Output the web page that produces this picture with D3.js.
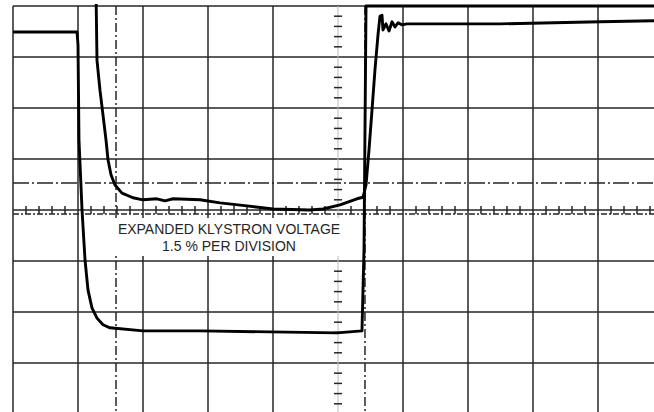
<!DOCTYPE html>
<html>
  <head>
    <script src="https://d3js.org/d3.v7.min.js"></script>
    <style>
      body { margin: 0; background: #fff; }
      .grid { stroke: #262626; stroke-width: 1.5; }
      .trace { fill: none; stroke: #000; stroke-width: 2.9; stroke-linejoin: round; }
      .label { font-family: "Liberation Sans", Arial, sans-serif; font-size: 14px; fill: #262626; }
    </style>
  </head>
  <body>
    <div id="scope"></div>
    <script>
      // graticule: 10 x 8 divisions (right edge cropped)
      const xDivisions = [0, 1, 2, 3, 4, 6, 7, 8, 9, 10];
      const yDivisions = d3.range(-4, 5);

      // trace 1 (beam pulse), in divisions
      const pulseT = [0, 0.985, 1.0, 1.015, 1.062, 1.108, 1.154, 1.215, 1.292, 1.385, 1.492, 2.0, 2.877, 3.954, 4.985, 5.369, 5.4, 5.431, 9.862];
      const pulseV = [3.49, 3.49, 3.24, 1.37, 0, -0.98, -1.57, -1.92, -2.12, -2.25, -2.31, -2.37, -2.37, -2.39, -2.41, -2.37, -0.78, 4.0, 4.0];

      // trace 2 (expanded klystron voltage), in divisions
      const klyT = [1.277, 1.292, 1.338, 1.385, 1.431, 1.462, 1.508, 1.569, 1.677, 1.846, 2.0, 2.215, 2.338, 2.462, 2.877, 3.185, 3.6, 4.0, 4.569, 4.769, 5.031, 5.292, 5.385, 5.431, 5.477, 5.523, 5.569, 5.615, 5.646, 5.677, 5.692, 5.738, 5.785, 5.831, 5.877, 5.923, 5.985, 6.062, 6.262, 7.492, 9.031, 9.862];
      const klyV = [4.31, 2.94, 2.35, 1.86, 1.37, 0.98, 0.69, 0.49, 0.33, 0.24, 0.2, 0.22, 0.18, 0.22, 0.2, 0.14, 0.08, 0.02, 0, 0.02, 0.1, 0.22, 0.25, 0.49, 1.18, 1.96, 2.75, 3.43, 3.8, 3.82, 3.53, 3.65, 3.51, 3.69, 3.59, 3.67, 3.63, 3.65, 3.65, 3.65, 3.69, 3.71];

      const labelLines = ["EXPANDED KLYSTRON VOLTAGE", "1.5 % PER DIVISION"];

      const W = 654, H = 412;
      const x = d3.scaleLinear().domain([0, 10]).range([13, 663]);
      const y = d3.scaleLinear().domain([4, -4]).range([6, 414]);

      const svg = d3.select("#scope").append("svg")
        .attr("width", W).attr("height", H);

      const g = svg.append("g");

      // main grid
      g.selectAll(".vline").data(xDivisions).join("line")
        .attr("class", "grid")
        .attr("x1", d => x(d)).attr("x2", d => x(d))
        .attr("y1", y(4)).attr("y2", H);
      g.selectAll(".hline").data(yDivisions).join("line")
        .attr("class", "grid")
        .attr("x1", x(0)).attr("x2", W)
        .attr("y1", d => y(d)).attr("y2", d => y(d));
      // centre vertical axis is faint, only its ticks are strong
      g.append("line")
        .attr("stroke", "#bbb").attr("stroke-width", 1)
        .attr("x1", x(5)).attr("x2", x(5))
        .attr("y1", y(4)).attr("y2", H);

      // rise-time marker lines
      [1.585, 5.415].forEach(t => {
        g.append("line").attr("class", "grid")
          .attr("stroke-dasharray", "9,3,2,3")
          .attr("x1", x(t)).attr("x2", x(t))
          .attr("y1", y(4)).attr("y2", H);
      });
      g.append("line").attr("class", "grid")
        .attr("stroke-dasharray", "16,3,2,3")
        .attr("x1", x(0)).attr("x2", W)
        .attr("y1", y(0.53)).attr("y2", y(0.53));
      g.append("line").attr("class", "grid")
        .attr("stroke-dasharray", "6,2,2,2")
        .attr("x1", x(0)).attr("x2", W)
        .attr("y1", y(-0.08)).attr("y2", y(-0.08));

      // minor ticks on the centre axes
      const hTicks = d3.range(0, 50).map(i => i / 5).filter(d => d % 1 !== 0);
      g.selectAll(".htick").data(hTicks).join("line")
        .attr("class", "grid")
        .attr("x1", d => x(d)).attr("x2", d => x(d))
        .attr("y1", y(0) - 4).attr("y2", y(0) + 4);
      const vTicks = d3.range(-20, 20).map(i => i / 5).filter(d => Math.abs(d % 1) > 0.01);
      g.selectAll(".vtick").data(vTicks).join("line")
        .attr("class", "grid").attr("stroke-width", 2)
        .attr("x1", x(5) - 4).attr("x2", x(5) + 4)
        .attr("y1", d => y(d)).attr("y2", d => y(d));

      // annotation sits on a white patch that hides the grid
      g.append("rect")
        .attr("x", 112).attr("y", 218)
        .attr("width", 234).attr("height", 38)
        .attr("fill", "#fff");

      // traces
      const line = d3.line().x(d => x(d[0])).y(d => y(d[1]));
      svg.append("clipPath").attr("id", "clip")
        .append("rect").attr("x", 0).attr("y", 4).attr("width", W).attr("height", H);

      svg.append("path").attr("class", "trace").attr("clip-path", "url(#clip)")
        .attr("d", line(d3.zip(pulseT, pulseV)));
      svg.append("path").attr("class", "trace").attr("clip-path", "url(#clip)")
        .attr("d", line(d3.zip(klyT, klyV)));

      svg.selectAll(".label").data(labelLines).join("text")
        .attr("class", "label")
        .attr("text-anchor", "middle")
        .attr("x", 229)
        .attr("y", (d, i) => 234 + i * 17)
        .text(d => d);
    </script>
  </body>
</html>
